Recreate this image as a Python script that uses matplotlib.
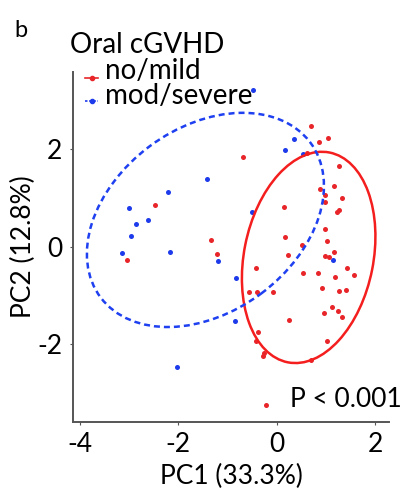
import numpy as np
import matplotlib
matplotlib.use("Agg")
import matplotlib.pyplot as plt
from matplotlib.patches import Ellipse
from matplotlib.lines import Line2D

plt.rcParams["font.family"] = ["Lato", "DejaVu Sans"]
plt.rcParams["axes.unicode_minus"] = False

# PCA scores
mild_pc1 = [-2.48, -1.34, -3.04, -1.21, 0.69, 0.87, 1.04, 0.62, -0.68, 1.27,
            0.88, 1.17, 0.98, 1.33, 0.99, 0.14, 1.27, 1.22, 0.99, 0.17,
            1.03, 0.51, 0.22, 1.17, 0.99, 1.07, -0.42, 1.43, 0.53, 0.85,
            1.58, 1.18, -0.56, -0.41, -0.08, 0.92, 1.26, 1.40, 0.96, 1.12,
            1.24, 1.33, 0.24, -0.38, -0.42, 1.02, -0.26, -0.28, 0.69, -0.22]
mild_pc2 = [0.85, 0.14, -0.27, -0.16, 2.47, 2.16, 2.23, 1.92, 1.85, 1.65,
            1.19, 1.25, 1.06, 1.01, 0.91, 0.82, 0.75, 0.72, 0.36, 0.20,
            0.12, 0.03, -0.18, -0.10, -0.20, -0.22, -0.44, -0.44, -0.53, -0.55,
            -0.58, -0.63, -0.94, -0.93, -0.94, -0.84, -0.90, -0.88, -1.37, -1.24,
            -1.32, -1.44, -1.51, -1.75, -1.94, -1.94, -2.18, -2.24, -2.33, -3.26]

severe_pc1 = [-1.42, -2.22, -3.00, -2.86, -2.61, -2.96, -3.15, -2.18, -1.20,
              -0.83, -0.49, 0.35, 0.17, 0.53, -0.50, 1.15, -0.85, -2.02]
severe_pc2 = [1.40, 1.12, 0.80, 0.46, 0.54, 0.23, -0.12, -0.10, -0.30,
              -0.64, 3.22, 2.21, 1.98, 1.90, 0.71, -0.27, -1.53, -2.48]

# 95% ellipses: centre x, centre y, full width, full height, angle (deg)
ell_mild = [0.65, -0.22, 4.39, 2.63, 78.9]
ell_severe = [-1.45, 0.55, 5.32, 3.78, 36.9]

group_labels = ["no/mild", "mod/severe"]
red_pt, blue_pt = "#E8262A", "#1D3BEB"
red_ln, blue_ln = "#F41E1E", "#1E40F0"
FS_AX = 19      # axis titles / ticks
FS_LEG = 20     # legend text

W, H = 402, 488
fig = plt.figure(figsize=(W / 100, H / 100), dpi=100)
ax = fig.add_axes([73 / W, 1 - 421.7 / H, 316 / W, 349.7 / H])

ax.scatter(mild_pc1, mild_pc2, s=13, color=red_pt, linewidths=0, zorder=3)
ax.scatter(severe_pc1, severe_pc2, s=13, color=blue_pt, linewidths=0, zorder=2)

e1 = Ellipse((ell_mild[0], ell_mild[1]), ell_mild[2], ell_mild[3], angle=ell_mild[4],
             fill=False, edgecolor=red_ln, lw=1.8, zorder=4)
e2 = Ellipse((ell_severe[0], ell_severe[1]), ell_severe[2], ell_severe[3], angle=ell_severe[4],
             fill=False, edgecolor=blue_ln, lw=1.8, linestyle=(0, (2.4, 1.6)), zorder=4)
ax.add_patch(e1)
ax.add_patch(e2)

ax.set_xlim(-4.143, 2.284)
ax.set_ylim(-3.593, 3.587)
ax.set_xticks([-4, -2, 0, 2])
ax.set_yticks([-2, 0, 2])
for s in ["top", "right"]:
    ax.spines[s].set_visible(False)
for s in ["left", "bottom"]:
    ax.spines[s].set_color("#555555")
    ax.spines[s].set_linewidth(1.4)
ax.tick_params(length=2.5, width=0.8, color="#555555", pad=5, labelsize=FS_AX)

ax.set_xlabel("PC1 (33.3%)", fontsize=FS_AX, labelpad=5)
ax.set_ylabel("PC2 (12.8%)", fontsize=FS_AX, labelpad=1)

ax.text(0.27, -3.13, "P < 0.001", fontsize=FS_AX, va="center", ha="left")

# legend drawn by hand so the keys sit indented under the title like ggplot
fig.text(70 / W, 1 - 53.3 / H, "Oral cGVHD", fontsize=FS_LEG, va="baseline", ha="left")
key_cols = [red_pt, blue_pt]
key_styles = ["-", (0, (1.5, 1))]
key_y = [77.7, 100.7]
text_base = [79.3, 104]
for lab, col, ls, ky, tb in zip(group_labels, key_cols, key_styles, key_y, text_base):
    fig.add_artist(Line2D([85 / W, 91.7 / W, 98.3 / W], [1 - ky / H] * 3,
                          transform=fig.transFigure, color=col, lw=1.2, linestyle=ls,
                          marker="o", markersize=3, markevery=[1]))
    fig.text(105 / W, 1 - tb / H, lab, fontsize=FS_LEG, va="baseline", ha="left")

fig.text(14 / W, 1 - 20 / H, "b", fontsize=17, va="top", ha="left")

fig.savefig("out.png", dpi=100)
